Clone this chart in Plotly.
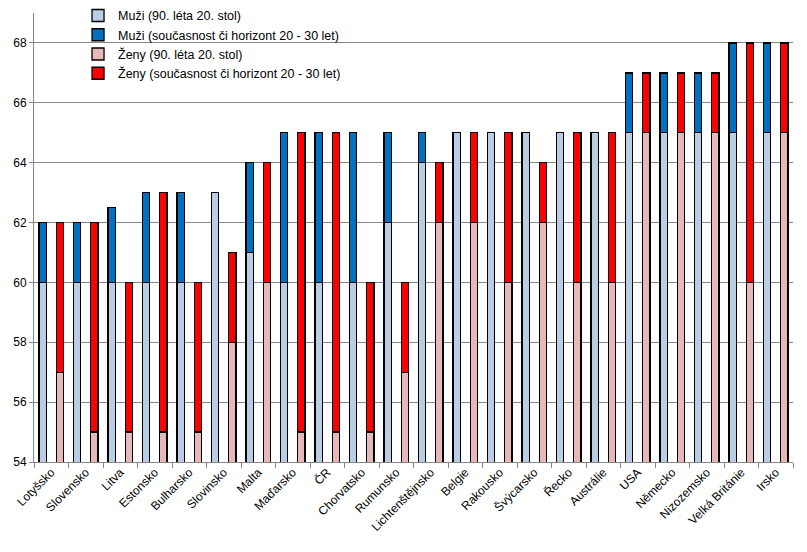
import plotly.graph_objects as go

countries = ["Lotyšsko", "Slovensko", "Litva", "Estonsko", "Bulharsko", "Slovinsko",
             "Malta", "Maďarsko", "ČR", "Chorvatsko", "Rumunsko", "Lichtenštějnsko",
             "Belgie", "Rakousko", "Švýcarsko", "Řecko", "Austrálie", "USA",
             "Německo", "Nizozemsko", "Velká Británie", "Irsko"]
muzi_90 = [60, 60, 60, 60, 60, 63, 61, 60, 60, 60, 62, 64, 65, 65, 65, 65, 65, 65, 65, 65, 65, 65]
muzi_now = [62, 62, 62.5, 63, 63, 63, 64, 65, 65, 65, 65, 65, 65, 65, 65, 65, 65, 67, 67, 67, 68, 68]
zeny_90 = [57, 55, 55, 55, 55, 58, 60, 55, 55, 55, 57, 62, 62, 60, 62, 60, 60, 65, 65, 65, 60, 65]
zeny_now = [62, 62, 60, 63, 60, 61, 64, 65, 65, 60, 60, 64, 65, 65, 64, 65, 65, 67, 67, 67, 68, 68]

n = len(countries)
idx = list(range(n))
x_m = [i - 0.25 for i in idx]
x_z = [i + 0.25 for i in idx]
muzi_inc = [(b - a) if b > a else None for a, b in zip(muzi_90, muzi_now)]
zeny_inc = [(b - a) if b > a else None for a, b in zip(zeny_90, zeny_now)]

line = dict(color="black", width=1.3)
W = 0.21
fig = go.Figure()
fig.add_bar(x=x_m, y=muzi_90, name="Muži (90. léta 20. stol)", marker=dict(color="#B9CDE5", line=line), width=W)
fig.add_bar(x=x_m, y=muzi_inc, name="Muži (současnost či horizont 20 - 30 let)", marker=dict(color="#0070C0", line=line), width=W)
fig.add_bar(x=x_z, y=zeny_90, name="Ženy (90. léta 20. stol)", marker=dict(color="#E6B9B8", line=line), width=W)
fig.add_bar(x=x_z, y=zeny_inc, name="Ženy (současnost či horizont 20 - 30 let)", marker=dict(color="#FF0000", line=line), width=W)

# invisible trace to bind secondary x axis for category labels
fig.add_scatter(x=idx, y=[None] * n, xaxis="x2", showlegend=False, hoverinfo="skip")

font = "Liberation Sans"
fig.update_layout(
    barmode="stack",
    width=807, height=552,
    margin=dict(l=26, r=22, t=5, b=98, autoexpand=False),
    paper_bgcolor="white", plot_bgcolor="white",
    font=dict(family=font, size=12, color="black"),
    showlegend=True,
    legend=dict(x=0.058, y=1.027, xanchor="left", yanchor="top", traceorder="normal",
                bgcolor="rgba(0,0,0,0)", font=dict(size=12.5), itemwidth=30,
                tracegroupgap=0),
    xaxis=dict(range=[-0.5, n - 0.5], tickvals=[i - 0.5 for i in range(n + 1)],
               ticktext=[""] * (n + 1), ticks="outside", ticklen=5, tickcolor="#868686",
               showline=True, linecolor="#868686", linewidth=1, showgrid=False, zeroline=False,
               automargin=False),
    xaxis2=dict(range=[-0.5, n - 0.5], overlaying="x", anchor="y", side="bottom",
                tickvals=idx, ticktext=countries, tickangle=-45, ticks="",
                showgrid=False, zeroline=False, showline=False, tickfont=dict(size=12),
                automargin=False),
    yaxis=dict(range=[54, 69], tickvals=[54, 56, 58, 60, 62, 64, 66, 68],
               showgrid=True, gridcolor="#868686", gridwidth=1,
               ticks="outside", ticklen=4, tickcolor="#868686",
               showline=True, linecolor="#868686", zeroline=False, tickfont=dict(size=12),
               automargin=False),
)
fig.write_html("out.html")
